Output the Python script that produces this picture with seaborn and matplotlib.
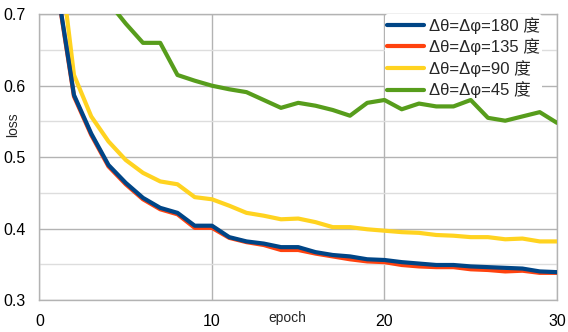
import matplotlib
matplotlib.use("Agg")
import matplotlib.pyplot as plt
import seaborn as sns
import pandas as pd

# Training loss per epoch for each angular step
epochs = list(range(1, 31))
loss_180 = [0.742, 0.587, 0.533, 0.489, 0.464, 0.443, 0.429, 0.422, 0.404, 0.404,
            0.388, 0.382, 0.379, 0.374, 0.374, 0.367, 0.363, 0.361, 0.357, 0.356,
            0.353, 0.351, 0.349, 0.349, 0.347, 0.346, 0.345, 0.344, 0.340, 0.339]
loss_135 = [0.740, 0.585, 0.531, 0.487, 0.462, 0.441, 0.427, 0.420, 0.401, 0.401,
            0.387, 0.381, 0.377, 0.370, 0.370, 0.365, 0.361, 0.357, 0.354, 0.353,
            0.349, 0.347, 0.346, 0.346, 0.343, 0.342, 0.340, 0.341, 0.338, 0.338]
loss_90 = [0.815, 0.615, 0.557, 0.522, 0.496, 0.478, 0.466, 0.462, 0.444, 0.441,
           0.432, 0.422, 0.418, 0.413, 0.414, 0.409, 0.402, 0.402, 0.399, 0.397,
           0.395, 0.394, 0.391, 0.390, 0.388, 0.388, 0.385, 0.386, 0.382, 0.382]
loss_45 = [0.900, 0.800, 0.750, 0.717, 0.687, 0.660, 0.660, 0.615, 0.607, 0.600,
           0.595, 0.591, 0.580, 0.569, 0.576, 0.572, 0.566, 0.558, 0.576, 0.580,
           0.567, 0.575, 0.571, 0.571, 0.580, 0.555, 0.551, 0.557, 0.563, 0.548]

labels = ["Δθ=Δφ=180 度", "Δθ=Δφ=135 度", "Δθ=Δφ=90 度", "Δθ=Δφ=45 度"]
series = [loss_180, loss_135, loss_90, loss_45]
colors = ["#004586", "#ff420e", "#ffd320", "#579d1c"]

sns.set_style("white")
plt.rcParams["font.family"] = ["Liberation Sans", "Noto Sans CJK SC", "DejaVu Sans"]

fig = plt.figure(figsize=(5.68, 3.32), dpi=100)
ax = fig.add_axes([0.0695, 0.0964, 0.9111, 0.8606])

grid_major = "#b3b3b3"
grid_minor = "#dddddd"

for i, (lab, vals, col) in enumerate(zip(labels, series, colors)):
    df = pd.DataFrame({"epoch": epochs, "loss": vals})
    sns.lineplot(data=df, x="epoch", y="loss", color=col, linewidth=3.0,
                 label=lab, ax=ax, zorder=10 - i)

ax.set_xlim(0, 30)
ax.set_ylim(0.3, 0.7)
ax.set_xticks([0, 10, 20, 30])
ax.set_yticks([0.3, 0.4, 0.5, 0.6, 0.7])
ax.set_yticklabels(["0.3", "0.4", "0.5", "0.6", "0.7"])
ax.set_yticks([0.35, 0.45, 0.55, 0.65], minor=True)

ax.grid(True, which="major", color=grid_major, linewidth=1.0)
ax.grid(True, which="minor", axis="y", color=grid_minor, linewidth=1.0)
ax.set_axisbelow(True)

for side in ["left", "right", "top", "bottom"]:
    ax.spines[side].set_visible(True)
    ax.spines[side].set_color(grid_major)
    ax.spines[side].set_linewidth(1.0)

ax.tick_params(axis="both", which="major", length=5, width=1.0, color=grid_major,
               labelsize=11.5, labelcolor="#000000", direction="out")
ax.tick_params(axis="x", which="major", length=6, pad=4)
ax.tick_params(axis="y", which="major", pad=5)
ax.tick_params(axis="y", which="minor", length=0)

ax.set_xlabel("epoch", fontsize=10)
ax.set_ylabel("loss", fontsize=10)
ax.xaxis.set_label_coords(0.478, -0.063)
ax.yaxis.set_label_coords(-0.051, 0.6125)
ax.xaxis.label.set_va("center")
ax.yaxis.label.set_va("center")

leg = ax.legend(loc="upper right", bbox_to_anchor=(0.972, 1.0), frameon=True,
                fontsize=12, handlelength=2.2, handletextpad=0.3,
                labelspacing=0.28, borderpad=0.15, borderaxespad=0.0)
leg.get_frame().set_facecolor("white")
leg.get_frame().set_edgecolor("none")
leg.get_frame().set_alpha(1.0)
for line in leg.get_lines():
    line.set_linewidth(3.0)

fig.savefig("out.png", dpi=100)
